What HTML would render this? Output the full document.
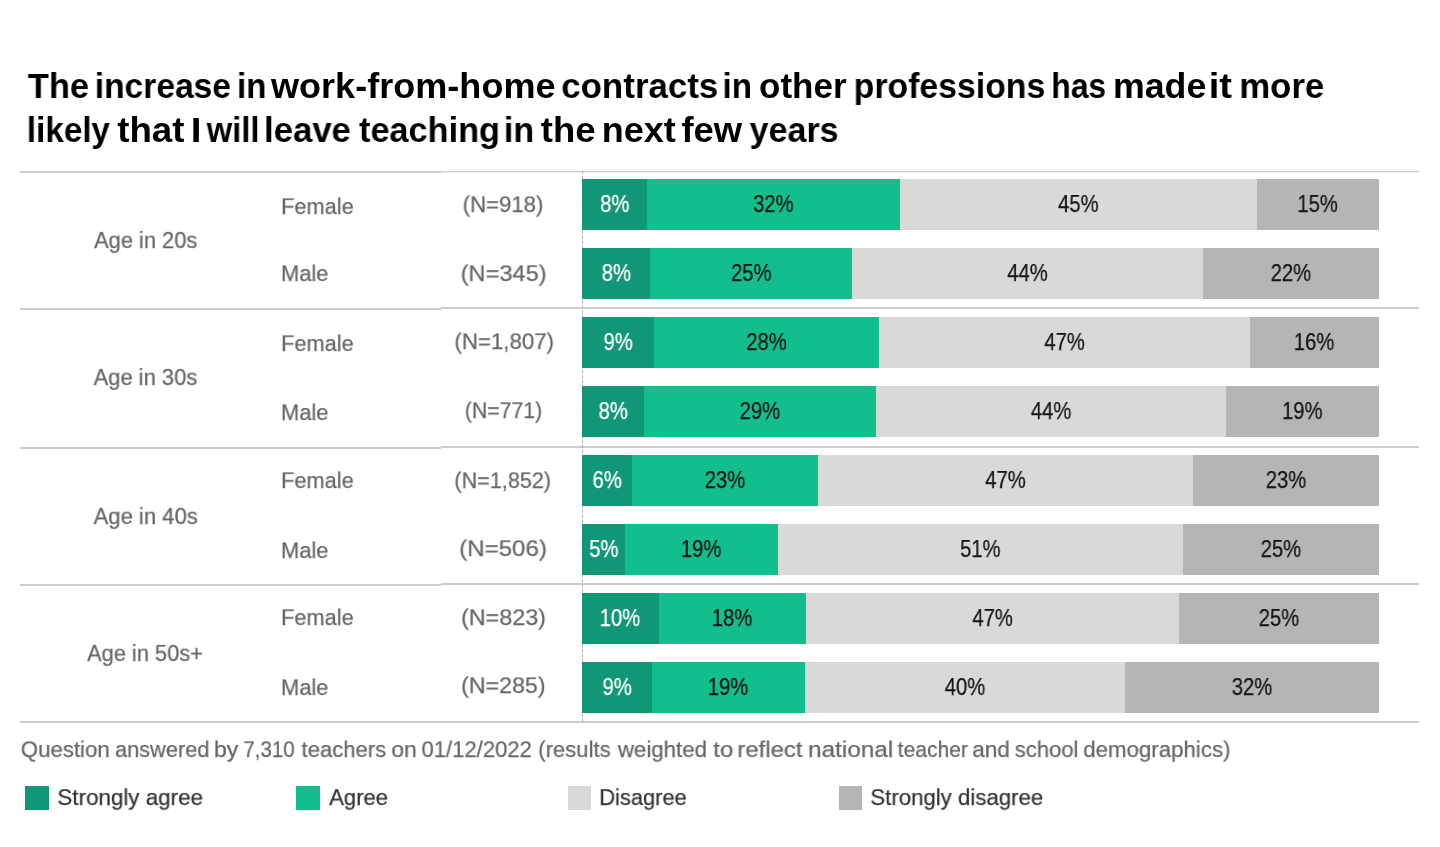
<!DOCTYPE html>
<html><head><meta charset="utf-8"><title>Work-from-home and teacher retention</title><style>
html,body{margin:0;padding:0;background:#fff;}
body{width:1440px;height:847px;position:relative;overflow:hidden;font-family:"Liberation Sans", sans-serif;}
.t{position:absolute;left:0;white-space:pre;will-change:transform;}
.t.n{-webkit-text-stroke:0.25px currentColor;}
.r{position:absolute;}
</style></head><body>
<div class="r" style="left:20px;top:171.00px;width:420.5px;height:2px;background:#cccccc"></div>
<div class="r" style="left:440.5px;top:171px;width:978px;height:1px;background:#cfcfcf"></div>
<div class="r" style="left:440.5px;top:172px;width:978px;height:1px;background:#eeeeee"></div>
<div class="r" style="left:20px;top:308.10px;width:420.5px;height:2px;background:#cccccc"></div>
<div class="r" style="left:440.5px;top:307.00px;width:978px;height:2px;background:#cccccc"></div>
<div class="r" style="left:20px;top:446.90px;width:420.5px;height:2px;background:#cccccc"></div>
<div class="r" style="left:440.5px;top:446.00px;width:978px;height:2px;background:#cccccc"></div>
<div class="r" style="left:20px;top:584.00px;width:420.5px;height:2px;background:#cccccc"></div>
<div class="r" style="left:440.5px;top:583.20px;width:978px;height:2px;background:#cccccc"></div>
<div class="r" style="left:20px;top:721.30px;width:420.5px;height:2px;background:#cccccc"></div>
<div class="r" style="left:440.5px;top:720.50px;width:978px;height:2px;background:#cccccc"></div>
<div class="r" style="left:582px;top:171px;width:0;height:551px;border-left:1px dashed #b0b0b0"></div>
<div class="r" style="left:582.20px;top:179.45px;width:64.88px;height:50.80px;background:#119775"></div>
<div class="r" style="left:647.08px;top:179.45px;width:252.52px;height:50.80px;background:#13be8d"></div>
<div class="r" style="left:899.60px;top:179.45px;width:357.48px;height:50.80px;background:#d9d9d9"></div>
<div class="r" style="left:1257.08px;top:179.45px;width:121.92px;height:50.80px;background:#b4b5b4"></div>
<div class="r" style="left:582.20px;top:248.45px;width:68.10px;height:50.80px;background:#119775"></div>
<div class="r" style="left:650.30px;top:248.45px;width:201.90px;height:50.80px;background:#13be8d"></div>
<div class="r" style="left:852.20px;top:248.45px;width:350.60px;height:50.80px;background:#d9d9d9"></div>
<div class="r" style="left:1202.80px;top:248.45px;width:176.20px;height:50.80px;background:#b4b5b4"></div>
<div class="r" style="left:582.20px;top:317.45px;width:71.70px;height:50.80px;background:#119775"></div>
<div class="r" style="left:653.90px;top:317.45px;width:225.30px;height:50.80px;background:#13be8d"></div>
<div class="r" style="left:879.20px;top:317.45px;width:370.80px;height:50.80px;background:#d9d9d9"></div>
<div class="r" style="left:1250.00px;top:317.45px;width:129.00px;height:50.80px;background:#b4b5b4"></div>
<div class="r" style="left:582.20px;top:386.45px;width:61.76px;height:50.80px;background:#119775"></div>
<div class="r" style="left:643.96px;top:386.45px;width:231.84px;height:50.80px;background:#13be8d"></div>
<div class="r" style="left:875.80px;top:386.45px;width:350.60px;height:50.80px;background:#d9d9d9"></div>
<div class="r" style="left:1226.40px;top:386.45px;width:152.60px;height:50.80px;background:#b4b5b4"></div>
<div class="r" style="left:582.20px;top:455.45px;width:49.70px;height:50.80px;background:#119775"></div>
<div class="r" style="left:631.90px;top:455.45px;width:186.10px;height:50.80px;background:#13be8d"></div>
<div class="r" style="left:818.00px;top:455.45px;width:375.00px;height:50.80px;background:#d9d9d9"></div>
<div class="r" style="left:1193.00px;top:455.45px;width:186.00px;height:50.80px;background:#b4b5b4"></div>
<div class="r" style="left:582.20px;top:524.45px;width:43.10px;height:50.80px;background:#119775"></div>
<div class="r" style="left:625.30px;top:524.45px;width:152.50px;height:50.80px;background:#13be8d"></div>
<div class="r" style="left:777.80px;top:524.45px;width:405.00px;height:50.80px;background:#d9d9d9"></div>
<div class="r" style="left:1182.80px;top:524.45px;width:196.20px;height:50.80px;background:#b4b5b4"></div>
<div class="r" style="left:582.20px;top:593.45px;width:76.40px;height:50.80px;background:#119775"></div>
<div class="r" style="left:658.60px;top:593.45px;width:147.80px;height:50.80px;background:#13be8d"></div>
<div class="r" style="left:806.40px;top:593.45px;width:372.50px;height:50.80px;background:#d9d9d9"></div>
<div class="r" style="left:1178.90px;top:593.45px;width:200.10px;height:50.80px;background:#b4b5b4"></div>
<div class="r" style="left:582.20px;top:662.45px;width:69.70px;height:50.80px;background:#119775"></div>
<div class="r" style="left:651.90px;top:662.45px;width:153.10px;height:50.80px;background:#13be8d"></div>
<div class="r" style="left:805.00px;top:662.45px;width:320.00px;height:50.80px;background:#d9d9d9"></div>
<div class="r" style="left:1125.00px;top:662.45px;width:254.00px;height:50.80px;background:#b4b5b4"></div>
<div class="r" style="left:25.40px;top:786.00px;width:23.60px;height:23.50px;background:#119775"></div>
<div class="r" style="left:296.30px;top:786.00px;width:23.60px;height:23.50px;background:#13be8d"></div>
<div class="r" style="left:567.60px;top:786.00px;width:23.60px;height:23.50px;background:#d9d9d9"></div>
<div class="r" style="left:838.60px;top:786.00px;width:23.60px;height:23.50px;background:#b4b5b4"></div>
<div class="t" style="top:65.82px;transform:translate(27.80px,0) scale(0.9836,1.0);transform-origin:0 31.68px;font-size:35px;line-height:39px;font-weight:700;color:#000">The</div>
<div class="t" style="top:65.82px;transform:translate(94.78px,0) scale(0.9590,1.0);transform-origin:0 31.68px;font-size:35px;line-height:39px;font-weight:700;color:#000">increase</div>
<div class="t" style="top:65.82px;transform:translate(237.01px,0) scale(0.9444,1.0);transform-origin:0 31.68px;font-size:35px;line-height:39px;font-weight:700;color:#000">in</div>
<div class="t" style="top:65.82px;transform:translate(271.00px,0) scale(1.0305,1.0);transform-origin:0 31.68px;font-size:35px;line-height:39px;font-weight:700;color:#000">work-from-home</div>
<div class="t" style="top:65.82px;transform:translate(561.20px,0) scale(0.9968,1.0);transform-origin:0 31.68px;font-size:35px;line-height:39px;font-weight:700;color:#000">contracts</div>
<div class="t" style="top:65.82px;transform:translate(722.50px,0) scale(0.9481,1.0);transform-origin:0 31.68px;font-size:35px;line-height:39px;font-weight:700;color:#000">in</div>
<div class="t" style="top:65.82px;transform:translate(759.00px,0) scale(0.9953,1.0);transform-origin:0 31.68px;font-size:35px;line-height:39px;font-weight:700;color:#000">other</div>
<div class="t" style="top:65.82px;transform:translate(853.67px,0) scale(0.9656,1.0);transform-origin:0 31.68px;font-size:35px;line-height:39px;font-weight:700;color:#000">professions</div>
<div class="t" style="top:65.82px;transform:translate(1051.28px,0) scale(0.9105,1.0);transform-origin:0 31.68px;font-size:35px;line-height:39px;font-weight:700;color:#000">has</div>
<div class="t" style="top:65.82px;transform:translate(1112.96px,0) scale(1.0205,1.0);transform-origin:0 31.68px;font-size:35px;line-height:39px;font-weight:700;color:#000">made</div>
<div class="t" style="top:65.82px;transform:translate(1208.72px,0) scale(1.0895,1.0);transform-origin:0 31.68px;font-size:35px;line-height:39px;font-weight:700;color:#000">it</div>
<div class="t" style="top:65.82px;transform:translate(1239.31px,0) scale(0.9927,1.0);transform-origin:0 31.68px;font-size:35px;line-height:39px;font-weight:700;color:#000">more</div>
<div class="t" style="top:110.02px;transform:translate(26.80px,0) scale(0.9494,1.0);transform-origin:0 31.68px;font-size:35px;line-height:39px;font-weight:700;color:#000">likely</div>
<div class="t" style="top:110.02px;transform:translate(117.20px,0) scale(1.0484,1.0);transform-origin:0 31.68px;font-size:35px;line-height:39px;font-weight:700;color:#000">that</div>
<div class="t" style="top:110.02px;transform:translate(190.80px,0) scale(1.1000,1.0);transform-origin:0 31.68px;font-size:35px;line-height:39px;font-weight:700;color:#000">I</div>
<div class="t" style="top:110.02px;transform:translate(206.70px,0) scale(0.9352,1.0);transform-origin:0 31.68px;font-size:35px;line-height:39px;font-weight:700;color:#000">will</div>
<div class="t" style="top:110.02px;transform:translate(264.02px,0) scale(0.9917,1.0);transform-origin:0 31.68px;font-size:35px;line-height:39px;font-weight:700;color:#000">leave</div>
<div class="t" style="top:110.02px;transform:translate(359.00px,0) scale(0.9794,1.0);transform-origin:0 31.68px;font-size:35px;line-height:39px;font-weight:700;color:#000">teaching</div>
<div class="t" style="top:110.02px;transform:translate(503.85px,0) scale(0.9741,1.0);transform-origin:0 31.68px;font-size:35px;line-height:39px;font-weight:700;color:#000">in</div>
<div class="t" style="top:110.02px;transform:translate(540.80px,0) scale(1.0431,1.0);transform-origin:0 31.68px;font-size:35px;line-height:39px;font-weight:700;color:#000">the</div>
<div class="t" style="top:110.02px;transform:translate(601.64px,0) scale(1.0290,1.0);transform-origin:0 31.68px;font-size:35px;line-height:39px;font-weight:700;color:#000">next</div>
<div class="t" style="top:110.02px;transform:translate(681.46px,0) scale(1.0404,1.0);transform-origin:0 31.68px;font-size:35px;line-height:39px;font-weight:700;color:#000">few</div>
<div class="t" style="top:110.02px;transform:translate(749.60px,0) scale(0.9722,1.0);transform-origin:0 31.68px;font-size:35px;line-height:39px;font-weight:700;color:#000">years</div>
<div class="t n" style="top:226.78px;transform:translate(94.10px,0) scale(0.9491,0.95);transform-origin:0 20.82px;font-size:23px;line-height:26px;font-weight:400;color:#666666">Age in 20s</div>
<div class="t n" style="top:363.78px;transform:translate(93.60px,0) scale(0.9537,0.95);transform-origin:0 20.82px;font-size:23px;line-height:26px;font-weight:400;color:#666666">Age in 30s</div>
<div class="t n" style="top:502.78px;transform:translate(93.60px,0) scale(0.9583,0.95);transform-origin:0 20.82px;font-size:23px;line-height:26px;font-weight:400;color:#666666">Age in 40s</div>
<div class="t n" style="top:640.23px;transform:translate(87.10px,0) scale(0.9479,0.95);transform-origin:0 20.82px;font-size:23px;line-height:26px;font-weight:400;color:#666666">Age in 50s+</div>
<div class="t n" style="top:192.88px;transform:translate(281.11px,0) scale(0.9459,0.92);transform-origin:0 20.82px;font-size:23px;line-height:26px;font-weight:400;color:#666666">Female</div>
<div class="t n" style="top:260.48px;transform:translate(281.00px,0) scale(0.9511,0.92);transform-origin:0 20.82px;font-size:23px;line-height:26px;font-weight:400;color:#666666">Male</div>
<div class="t n" style="top:329.88px;transform:translate(281.11px,0) scale(0.9459,0.92);transform-origin:0 20.82px;font-size:23px;line-height:26px;font-weight:400;color:#666666">Female</div>
<div class="t n" style="top:398.98px;transform:translate(281.00px,0) scale(0.9511,0.92);transform-origin:0 20.82px;font-size:23px;line-height:26px;font-weight:400;color:#666666">Male</div>
<div class="t n" style="top:467.18px;transform:translate(281.11px,0) scale(0.9459,0.92);transform-origin:0 20.82px;font-size:23px;line-height:26px;font-weight:400;color:#666666">Female</div>
<div class="t n" style="top:536.58px;transform:translate(281.00px,0) scale(0.9511,0.92);transform-origin:0 20.82px;font-size:23px;line-height:26px;font-weight:400;color:#666666">Male</div>
<div class="t n" style="top:604.48px;transform:translate(281.11px,0) scale(0.9459,0.92);transform-origin:0 20.82px;font-size:23px;line-height:26px;font-weight:400;color:#666666">Female</div>
<div class="t n" style="top:673.98px;transform:translate(281.00px,0) scale(0.9511,0.92);transform-origin:0 20.82px;font-size:23px;line-height:26px;font-weight:400;color:#666666">Male</div>
<div class="t n" style="top:190.88px;transform:translate(462.64px,0) scale(0.9642,0.92);transform-origin:0 20.82px;font-size:23px;line-height:26px;font-weight:400;color:#666666">(N=918)</div>
<div class="t n" style="top:260.48px;transform:translate(460.67px,0) scale(1.0259,0.92);transform-origin:0 20.82px;font-size:23px;line-height:26px;font-weight:400;color:#666666">(N=345)</div>
<div class="t n" style="top:328.23px;transform:translate(454.43px,0) scale(0.9670,0.92);transform-origin:0 20.82px;font-size:23px;line-height:26px;font-weight:400;color:#666666">(N=1,807)</div>
<div class="t n" style="top:397.48px;transform:translate(464.78px,0) scale(0.9247,0.92);transform-origin:0 20.82px;font-size:23px;line-height:26px;font-weight:400;color:#666666">(N=771)</div>
<div class="t n" style="top:466.98px;transform:translate(454.36px,0) scale(0.9390,0.92);transform-origin:0 20.82px;font-size:23px;line-height:26px;font-weight:400;color:#666666">(N=1,852)</div>
<div class="t n" style="top:534.78px;transform:translate(459.25px,0) scale(1.0469,0.92);transform-origin:0 20.82px;font-size:23px;line-height:26px;font-weight:400;color:#666666">(N=506)</div>
<div class="t n" style="top:603.98px;transform:translate(461.09px,0) scale(1.0136,0.92);transform-origin:0 20.82px;font-size:23px;line-height:26px;font-weight:400;color:#666666">(N=823)</div>
<div class="t n" style="top:672.08px;transform:translate(461.09px,0) scale(1.0086,0.92);transform-origin:0 20.82px;font-size:23px;line-height:26px;font-weight:400;color:#666666">(N=285)</div>
<div class="t n" style="top:191.48px;transform:translate(600.12px,0) scale(0.8800,1.0);transform-origin:0 20.82px;font-size:23px;line-height:26px;font-weight:400;color:#ffffff">8%</div>
<div class="t n" style="top:191.48px;transform:translate(753.10px,0) scale(0.8800,1.0);transform-origin:0 20.82px;font-size:23px;line-height:26px;font-weight:400;color:#151515">32%</div>
<div class="t n" style="top:191.48px;transform:translate(1058.10px,0) scale(0.8800,1.0);transform-origin:0 20.82px;font-size:23px;line-height:26px;font-weight:400;color:#151515">45%</div>
<div class="t n" style="top:191.48px;transform:translate(1297.36px,0) scale(0.8800,1.0);transform-origin:0 20.82px;font-size:23px;line-height:26px;font-weight:400;color:#151515">15%</div>
<div class="t n" style="top:260.48px;transform:translate(601.73px,0) scale(0.8800,1.0);transform-origin:0 20.82px;font-size:23px;line-height:26px;font-weight:400;color:#ffffff">8%</div>
<div class="t n" style="top:260.48px;transform:translate(731.01px,0) scale(0.8800,1.0);transform-origin:0 20.82px;font-size:23px;line-height:26px;font-weight:400;color:#151515">25%</div>
<div class="t n" style="top:260.48px;transform:translate(1007.26px,0) scale(0.8800,1.0);transform-origin:0 20.82px;font-size:23px;line-height:26px;font-weight:400;color:#151515">44%</div>
<div class="t n" style="top:260.48px;transform:translate(1270.66px,0) scale(0.8800,1.0);transform-origin:0 20.82px;font-size:23px;line-height:26px;font-weight:400;color:#151515">22%</div>
<div class="t n" style="top:329.48px;transform:translate(603.53px,0) scale(0.8800,1.0);transform-origin:0 20.82px;font-size:23px;line-height:26px;font-weight:400;color:#ffffff">9%</div>
<div class="t n" style="top:329.48px;transform:translate(746.31px,0) scale(0.8800,1.0);transform-origin:0 20.82px;font-size:23px;line-height:26px;font-weight:400;color:#151515">28%</div>
<div class="t n" style="top:329.48px;transform:translate(1044.36px,0) scale(0.8800,1.0);transform-origin:0 20.82px;font-size:23px;line-height:26px;font-weight:400;color:#151515">47%</div>
<div class="t n" style="top:329.48px;transform:translate(1293.82px,0) scale(0.8800,1.0);transform-origin:0 20.82px;font-size:23px;line-height:26px;font-weight:400;color:#151515">16%</div>
<div class="t n" style="top:398.48px;transform:translate(598.56px,0) scale(0.8800,1.0);transform-origin:0 20.82px;font-size:23px;line-height:26px;font-weight:400;color:#ffffff">8%</div>
<div class="t n" style="top:398.48px;transform:translate(739.64px,0) scale(0.8800,1.0);transform-origin:0 20.82px;font-size:23px;line-height:26px;font-weight:400;color:#151515">29%</div>
<div class="t n" style="top:398.48px;transform:translate(1030.86px,0) scale(0.8800,1.0);transform-origin:0 20.82px;font-size:23px;line-height:26px;font-weight:400;color:#151515">44%</div>
<div class="t n" style="top:398.48px;transform:translate(1282.02px,0) scale(0.8800,1.0);transform-origin:0 20.82px;font-size:23px;line-height:26px;font-weight:400;color:#151515">19%</div>
<div class="t n" style="top:467.48px;transform:translate(592.53px,0) scale(0.8800,1.0);transform-origin:0 20.82px;font-size:23px;line-height:26px;font-weight:400;color:#ffffff">6%</div>
<div class="t n" style="top:467.48px;transform:translate(704.71px,0) scale(0.8800,1.0);transform-origin:0 20.82px;font-size:23px;line-height:26px;font-weight:400;color:#151515">23%</div>
<div class="t n" style="top:467.48px;transform:translate(985.26px,0) scale(0.8800,1.0);transform-origin:0 20.82px;font-size:23px;line-height:26px;font-weight:400;color:#151515">47%</div>
<div class="t n" style="top:467.48px;transform:translate(1265.76px,0) scale(0.8800,1.0);transform-origin:0 20.82px;font-size:23px;line-height:26px;font-weight:400;color:#151515">23%</div>
<div class="t n" style="top:536.48px;transform:translate(589.23px,0) scale(0.8800,1.0);transform-origin:0 20.82px;font-size:23px;line-height:26px;font-weight:400;color:#ffffff">5%</div>
<div class="t n" style="top:536.48px;transform:translate(680.87px,0) scale(0.8800,1.0);transform-origin:0 20.82px;font-size:23px;line-height:26px;font-weight:400;color:#151515">19%</div>
<div class="t n" style="top:536.48px;transform:translate(960.06px,0) scale(0.8800,1.0);transform-origin:0 20.82px;font-size:23px;line-height:26px;font-weight:400;color:#151515">51%</div>
<div class="t n" style="top:536.48px;transform:translate(1260.66px,0) scale(0.8800,1.0);transform-origin:0 20.82px;font-size:23px;line-height:26px;font-weight:400;color:#151515">25%</div>
<div class="t n" style="top:605.48px;transform:translate(599.72px,0) scale(0.8800,1.0);transform-origin:0 20.82px;font-size:23px;line-height:26px;font-weight:400;color:#ffffff">10%</div>
<div class="t n" style="top:605.48px;transform:translate(711.82px,0) scale(0.8800,1.0);transform-origin:0 20.82px;font-size:23px;line-height:26px;font-weight:400;color:#151515">18%</div>
<div class="t n" style="top:605.48px;transform:translate(972.41px,0) scale(0.8800,1.0);transform-origin:0 20.82px;font-size:23px;line-height:26px;font-weight:400;color:#151515">47%</div>
<div class="t n" style="top:605.48px;transform:translate(1258.71px,0) scale(0.8800,1.0);transform-origin:0 20.82px;font-size:23px;line-height:26px;font-weight:400;color:#151515">25%</div>
<div class="t n" style="top:674.48px;transform:translate(602.53px,0) scale(0.8800,1.0);transform-origin:0 20.82px;font-size:23px;line-height:26px;font-weight:400;color:#ffffff">9%</div>
<div class="t n" style="top:674.48px;transform:translate(707.77px,0) scale(0.8800,1.0);transform-origin:0 20.82px;font-size:23px;line-height:26px;font-weight:400;color:#151515">19%</div>
<div class="t n" style="top:674.48px;transform:translate(944.76px,0) scale(0.8800,1.0);transform-origin:0 20.82px;font-size:23px;line-height:26px;font-weight:400;color:#151515">40%</div>
<div class="t n" style="top:674.48px;transform:translate(1231.76px,0) scale(0.8800,1.0);transform-origin:0 20.82px;font-size:23px;line-height:26px;font-weight:400;color:#151515">32%</div>
<div class="t n" style="top:736.48px;transform:translate(20.73px,0) scale(0.9672,0.92);transform-origin:0 20.82px;font-size:23px;line-height:26px;font-weight:400;color:#666666">Question</div>
<div class="t n" style="top:736.48px;transform:translate(115.05px,0) scale(0.9454,0.92);transform-origin:0 20.82px;font-size:23px;line-height:26px;font-weight:400;color:#666666">answered</div>
<div class="t n" style="top:736.48px;transform:translate(214.00px,0) scale(1.0000,0.92);transform-origin:0 20.82px;font-size:23px;line-height:26px;font-weight:400;color:#666666">by</div>
<div class="t n" style="top:736.48px;transform:translate(243.31px,0) scale(0.8929,0.92);transform-origin:0 20.82px;font-size:23px;line-height:26px;font-weight:400;color:#666666">7,310</div>
<div class="t n" style="top:736.48px;transform:translate(301.50px,0) scale(0.9598,0.92);transform-origin:0 20.82px;font-size:23px;line-height:26px;font-weight:400;color:#666666">teachers</div>
<div class="t n" style="top:736.48px;transform:translate(391.30px,0) scale(0.9957,0.92);transform-origin:0 20.82px;font-size:23px;line-height:26px;font-weight:400;color:#666666">on</div>
<div class="t n" style="top:736.48px;transform:translate(421.54px,0) scale(0.9584,0.92);transform-origin:0 20.82px;font-size:23px;line-height:26px;font-weight:400;color:#666666">01/12/2022</div>
<div class="t n" style="top:736.48px;transform:translate(538.24px,0) scale(0.9595,0.92);transform-origin:0 20.82px;font-size:23px;line-height:26px;font-weight:400;color:#666666">(results</div>
<div class="t n" style="top:736.48px;transform:translate(617.90px,0) scale(0.9681,0.92);transform-origin:0 20.82px;font-size:23px;line-height:26px;font-weight:400;color:#666666">weighted</div>
<div class="t n" style="top:736.48px;transform:translate(713.30px,0) scale(1.0389,0.92);transform-origin:0 20.82px;font-size:23px;line-height:26px;font-weight:400;color:#666666">to</div>
<div class="t n" style="top:736.48px;transform:translate(737.32px,0) scale(1.0417,0.92);transform-origin:0 20.82px;font-size:23px;line-height:26px;font-weight:400;color:#666666">reflect</div>
<div class="t n" style="top:736.48px;transform:translate(808.09px,0) scale(1.0558,0.92);transform-origin:0 20.82px;font-size:23px;line-height:26px;font-weight:400;color:#666666">national</div>
<div class="t n" style="top:736.48px;transform:translate(897.70px,0) scale(0.9158,0.92);transform-origin:0 20.82px;font-size:23px;line-height:26px;font-weight:400;color:#666666">teacher</div>
<div class="t n" style="top:736.48px;transform:translate(972.22px,0) scale(0.9833,0.92);transform-origin:0 20.82px;font-size:23px;line-height:26px;font-weight:400;color:#666666">and</div>
<div class="t n" style="top:736.48px;transform:translate(1014.74px,0) scale(0.9594,0.92);transform-origin:0 20.82px;font-size:23px;line-height:26px;font-weight:400;color:#666666">school</div>
<div class="t n" style="top:736.48px;transform:translate(1083.23px,0) scale(0.9680,0.92);transform-origin:0 20.82px;font-size:23px;line-height:26px;font-weight:400;color:#666666">demographics)</div>
<div class="t n" style="top:783.88px;transform:translate(57.33px,0) scale(0.9741,0.93);transform-origin:0 20.82px;font-size:23px;line-height:26px;font-weight:400;color:#333333">Strongly agree</div>
<div class="t n" style="top:783.88px;transform:translate(329.20px,0) scale(0.9583,0.93);transform-origin:0 20.82px;font-size:23px;line-height:26px;font-weight:400;color:#333333">Agree</div>
<div class="t n" style="top:783.88px;transform:translate(599.30px,0) scale(0.9494,0.93);transform-origin:0 20.82px;font-size:23px;line-height:26px;font-weight:400;color:#333333">Disagree</div>
<div class="t n" style="top:783.88px;transform:translate(870.33px,0) scale(0.9655,0.93);transform-origin:0 20.82px;font-size:23px;line-height:26px;font-weight:400;color:#333333">Strongly disagree</div>
</body></html>
